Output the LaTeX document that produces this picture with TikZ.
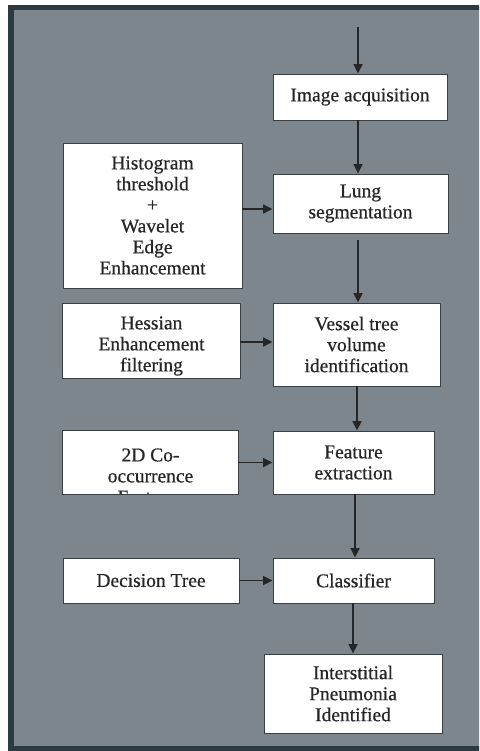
\documentclass[tikz,border=0pt]{standalone}
\usepackage{fontspec}
\setmainfont{Liberation Serif}[FakeBold=0.6]
\usetikzlibrary{arrows.meta}
\definecolor{bg}{HTML}{7E868D}
\definecolor{frame}{HTML}{2E3A42}
\definecolor{boxline}{HTML}{3A3F44}
\definecolor{ink}{HTML}{262626}
\begin{document}
\begin{tikzpicture}[x=1pt,y=-1pt,
  txt/.style={text=ink, align=center, inner sep=0pt, font=\fontsize{19.5}{21}\selectfont},
  box/.style={txt, draw=boxline, line width=0.9pt, fill=white},
  blank/.style={fill=white, inner sep=0pt},
  arr/.style={draw=ink, line width=1.6pt, -{Triangle[length=9.5pt,width=9pt]}}]
\useasboundingbox (0,0) rectangle (479,751);
\clip (0,0) rectangle (479,751);
\fill[white] (0,0) rectangle (479,751);
\draw[frame, line width=5.5pt, fill=bg] (11,7.5) rectangle (490,748.5);

% right column
\node[box, minimum width=174pt, minimum height=46pt] (acq) at (360,97) {Image acquisition};
\node[box, minimum width=175pt, minimum height=59pt] (lung) at (360.5,203.5) {Lung\\segmentation};
\node[box, minimum width=167pt, minimum height=83pt] (vessel) at (356.5,344.5) {Vessel tree\\volume\\identification};
\node[box, minimum width=161pt, minimum height=63pt] (feat) at (353.5,462.5) {Feature\\extraction};
\node[box, minimum width=161pt, minimum height=45pt] (cls) at (353.5,580.5) {Classifier};
\node[box, minimum width=178pt, minimum height=79pt] (ip) at (353,693.5) {Interstitial\\Pneumonia\\Identified};

% left column
\node[box, minimum width=179pt, minimum height=145pt] (hist) at (152.5,215.5) {Histogram\\threshold\\+\\Wavelet\\Edge\\Enhancement};

\node[blank, minimum width=177pt, minimum height=74pt] (hess) at (151.5,341) {};
\begin{scope}
  \clip (hess.south west) rectangle (hess.north east);
  \node[txt] (hesstext) at (151.5,346) {Hessian\\Enhancement\\filtering};
\end{scope}
\draw[boxline, line width=0.9pt] (hess.south west) rectangle (hess.north east);

\node[blank, minimum width=175pt, minimum height=63pt] (co) at (150.5,462.5) {};
\begin{scope}
  \clip (co.south west) rectangle (co.north east);
  \node[txt] (cotext) at (150.5,476) {2D Co-\\occurrence\\Features};
\end{scope}
\draw[boxline, line width=0.9pt] (co.south west) rectangle (co.north east);

\node[box, minimum width=176pt, minimum height=45pt] (dec) at (151,580.5) {Decision Tree};

% vertical arrows
\coordinate (start) at (358,27);
\draw[arr] (start) -- (start |- acq.north);
\draw[arr] ([xshift=-2pt]acq.south) -- ([xshift=-2pt]acq.south |- lung.north);
\draw[arr] ([xshift=-2.5pt,yshift=-7pt]lung.south) -- ([xshift=-2.5pt]lung.south |- vessel.north);
\draw[arr] ([xshift=0.5pt]vessel.south) -- ([xshift=0.5pt]vessel.south |- feat.north);
\draw[arr] ([xshift=1.5pt]feat.south) -- ([xshift=1.5pt]feat.south |- cls.north);
\draw[arr] (cls.south -| ip.north) -- (ip.north);

% horizontal arrows
\draw[arr] ([yshift=6.5pt]hist.east) -- ([yshift=6.5pt]hist.east -| lung.west);
\draw[arr] ([yshift=-1pt]hess.east) -- ([yshift=-1pt]hess.east -| vessel.west);
\draw[arr] (co.east) -- (co.east -| feat.west);
\draw[arr] (dec.east) -- (dec.east -| cls.west);
\end{tikzpicture}
\end{document}
